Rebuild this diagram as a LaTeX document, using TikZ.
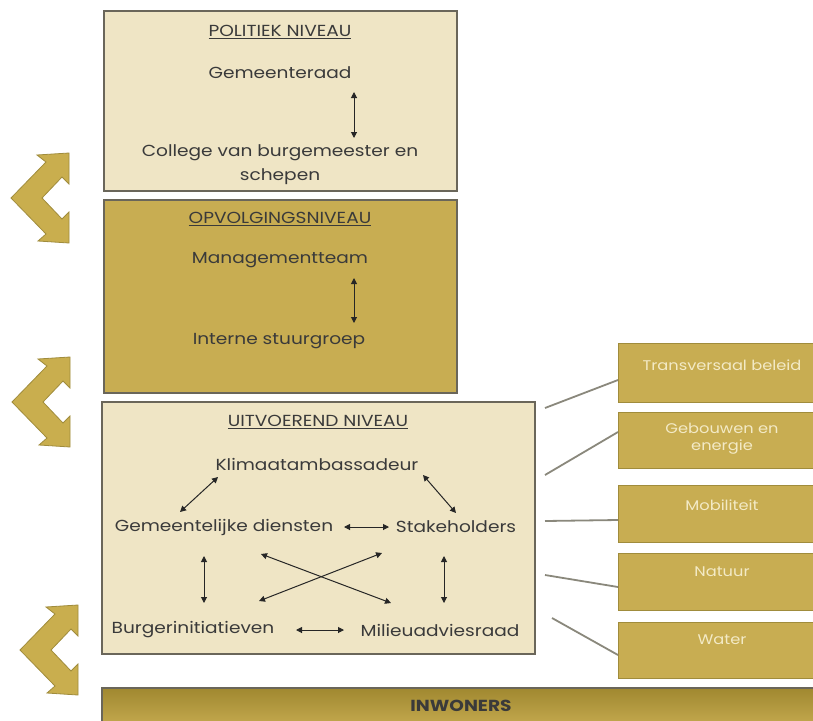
\documentclass[tikz,border=0pt]{standalone}
\usepackage{fontspec}
\setmainfont{Poppins}[FakeStretch=1.16]
\usetikzlibrary{arrows.meta,calc}
\definecolor{lightbox}{HTML}{EFE5C5}
\definecolor{goldbox}{HTML}{C8AD52}
\definecolor{golddark}{HTML}{A08830}
\definecolor{boxline}{HTML}{6A665A}
\definecolor{txt}{HTML}{3A3A3A}
\definecolor{chevfill}{HTML}{C9AE4E}
\definecolor{chevline}{HTML}{A08C3C}
\definecolor{linkline}{HTML}{8A887C}
\definecolor{rtxt}{HTML}{F3EAC6}
\tikzset{
  lvlbox/.style={draw=boxline, line width=1.2pt},
  rbox/.style={draw=chevline, line width=1pt, fill=goldbox, anchor=north west, minimum width=212pt, minimum height=#1, inner sep=0pt},
  lbl/.style={text=txt, font=\fontsize{16}{18}\selectfont, inner sep=0pt},
  rlbl/.style={text=rtxt, font=\fontsize{14}{17}\selectfont, inner sep=0pt, align=center},
  dbl/.style={{Triangle[length=6pt,width=6pt]}-{Triangle[length=6pt,width=6pt]}, line width=1pt, black!85},
  link/.style={draw=linkline, line width=1.8pt},
  chev/.style={fill=chevfill, draw=chevline, line width=0.8pt, line join=miter}
}
\newcommand{\mychevron}[1]{%
  \draw[chev, shift={#1}] (37,155) -- (69,153) -- (69,184) -- (62,177) -- (42,198) -- (62,219) -- (69,212) -- (69,243) -- (38,241) -- (46,234) -- (11,198) -- (46,162) -- cycle;}
\begin{document}
\begin{tikzpicture}[x=1pt,y=-1pt]
\useasboundingbox (0,0) rectangle (813,720);
\fill[white] (0,0) rectangle (813,720);

% chevrons
\mychevron{(0,0)}
\mychevron{(1,204)}
\mychevron{(9,452)}

% level boxes
\path[lvlbox, fill=lightbox] (104,11) rectangle (457,191);
\path[lvlbox, fill=goldbox] (104,200) rectangle (457,393);
\path[lvlbox, fill=lightbox] (102,402) rectangle (535,654);
\shade[top color=golddark, bottom color=goldbox] (102,688) rectangle (830,730);
\draw[boxline, line width=1.2pt] (102,730) -- (102,688) -- (830,688);

% politiek
\node[lbl] (polt) at (280,32) {\underline{POLITIEK NIVEAU}};
\node[lbl] (gr) at (280,73) {Gemeenteraad};
\node[lbl] (cb) at (280,153) {College van burgemeester en};
\node[lbl] (sch) at (280,177) {schepen};
\coordinate (pa1) at (354,92);
\coordinate (pa2) at (354,138);
\draw[dbl] (pa1) -- (pa2);

% opvolging
\node[lbl] (opt) at (280,219) {\underline{OPVOLGINGSNIVEAU}};
\node[lbl] (mt) at (280,260) {Managementteam};
\node[lbl] (isg) at (279,341) {Interne stuurgroep};
\coordinate (oa1) at (354,278);
\coordinate (oa2) at (354,323);
\draw[dbl] (oa1) -- (oa2);

% uitvoerend
\node[lbl] (uit) at (318,422) {\underline{UITVOEREND NIVEAU}};
\node[lbl] (ka) at (317,464) {Klimaatambassadeur};
\node[lbl] (gd) at (224,527) {Gemeentelijke diensten};
\node[lbl] (sh) at (456,527) {Stakeholders};
\node[lbl] (bi) at (193,630) {Burgerinitiatieven};
\node[lbl] (ma) at (440,630) {Milieuadviesraad};
\coordinate (k1) at (218,477); \coordinate (k2) at (180,512);
\coordinate (k3) at (423,475); \coordinate (k4) at (456,513);
\coordinate (g1) at (344,527); \coordinate (g2) at (389,527);
\coordinate (v1) at (204,556); \coordinate (v2) at (204,603);
\coordinate (v3) at (444,556); \coordinate (v4) at (444,603);
\coordinate (c1) at (261,554); \coordinate (c2) at (391,603);
\coordinate (c3) at (382,553); \coordinate (c4) at (259,601);
\coordinate (b1) at (296,630); \coordinate (b2) at (344,630);
\draw[dbl] (k1) -- (k2);
\draw[dbl] (k3) -- (k4);
\draw[dbl] (g1) -- (g2);
\draw[dbl] (v1) -- (v2);
\draw[dbl] (v3) -- (v4);
\draw[dbl] (c1) -- (c2);
\draw[dbl] (c3) -- (c4);
\draw[dbl] (b1) -- (b2);

% inwoners
\node[text=txt, font=\fontsize{16}{18}\selectfont\bfseries, inner sep=0pt] (inw) at (461,706) {INWONERS};

% right boxes
\node[rbox=59pt] (tb) at (618,343) {};
\node[rbox=56pt] (ge) at (618,412) {};
\node[rbox=57pt] (mo) at (618,485) {};
\node[rbox=57pt] (na) at (618,553) {};
\node[rbox=56pt] (wa) at (618,622) {};
\node[rlbl] (tbt) at (722,365) {Transversaal beleid};
\node[rlbl] (get) at (722,439) {Gebouwen en\\energie};
\node[rlbl] (mot) at (722,505) {Mobiliteit};
\node[rlbl] (nat) at (722,572) {Natuur};
\node[rlbl] (wat) at (722,640) {Water};

% links
\coordinate (l1) at (545,408); \coordinate (l2) at (545,475);
\coordinate (l3) at (545,521); \coordinate (l4) at (545,575);
\coordinate (l5) at (552,618);
\draw[link] (l1) -- (tb.west |- 0,380);
\draw[link] (l2) -- (ge.west |- 0,432);
\draw[link] (l3) -- (mo.west |- 0,520);
\draw[link] (l4) -- (na.west |- 0,587);
\draw[link] (l5) -- (wa.west |- 0,655);
\end{tikzpicture}
\end{document}
